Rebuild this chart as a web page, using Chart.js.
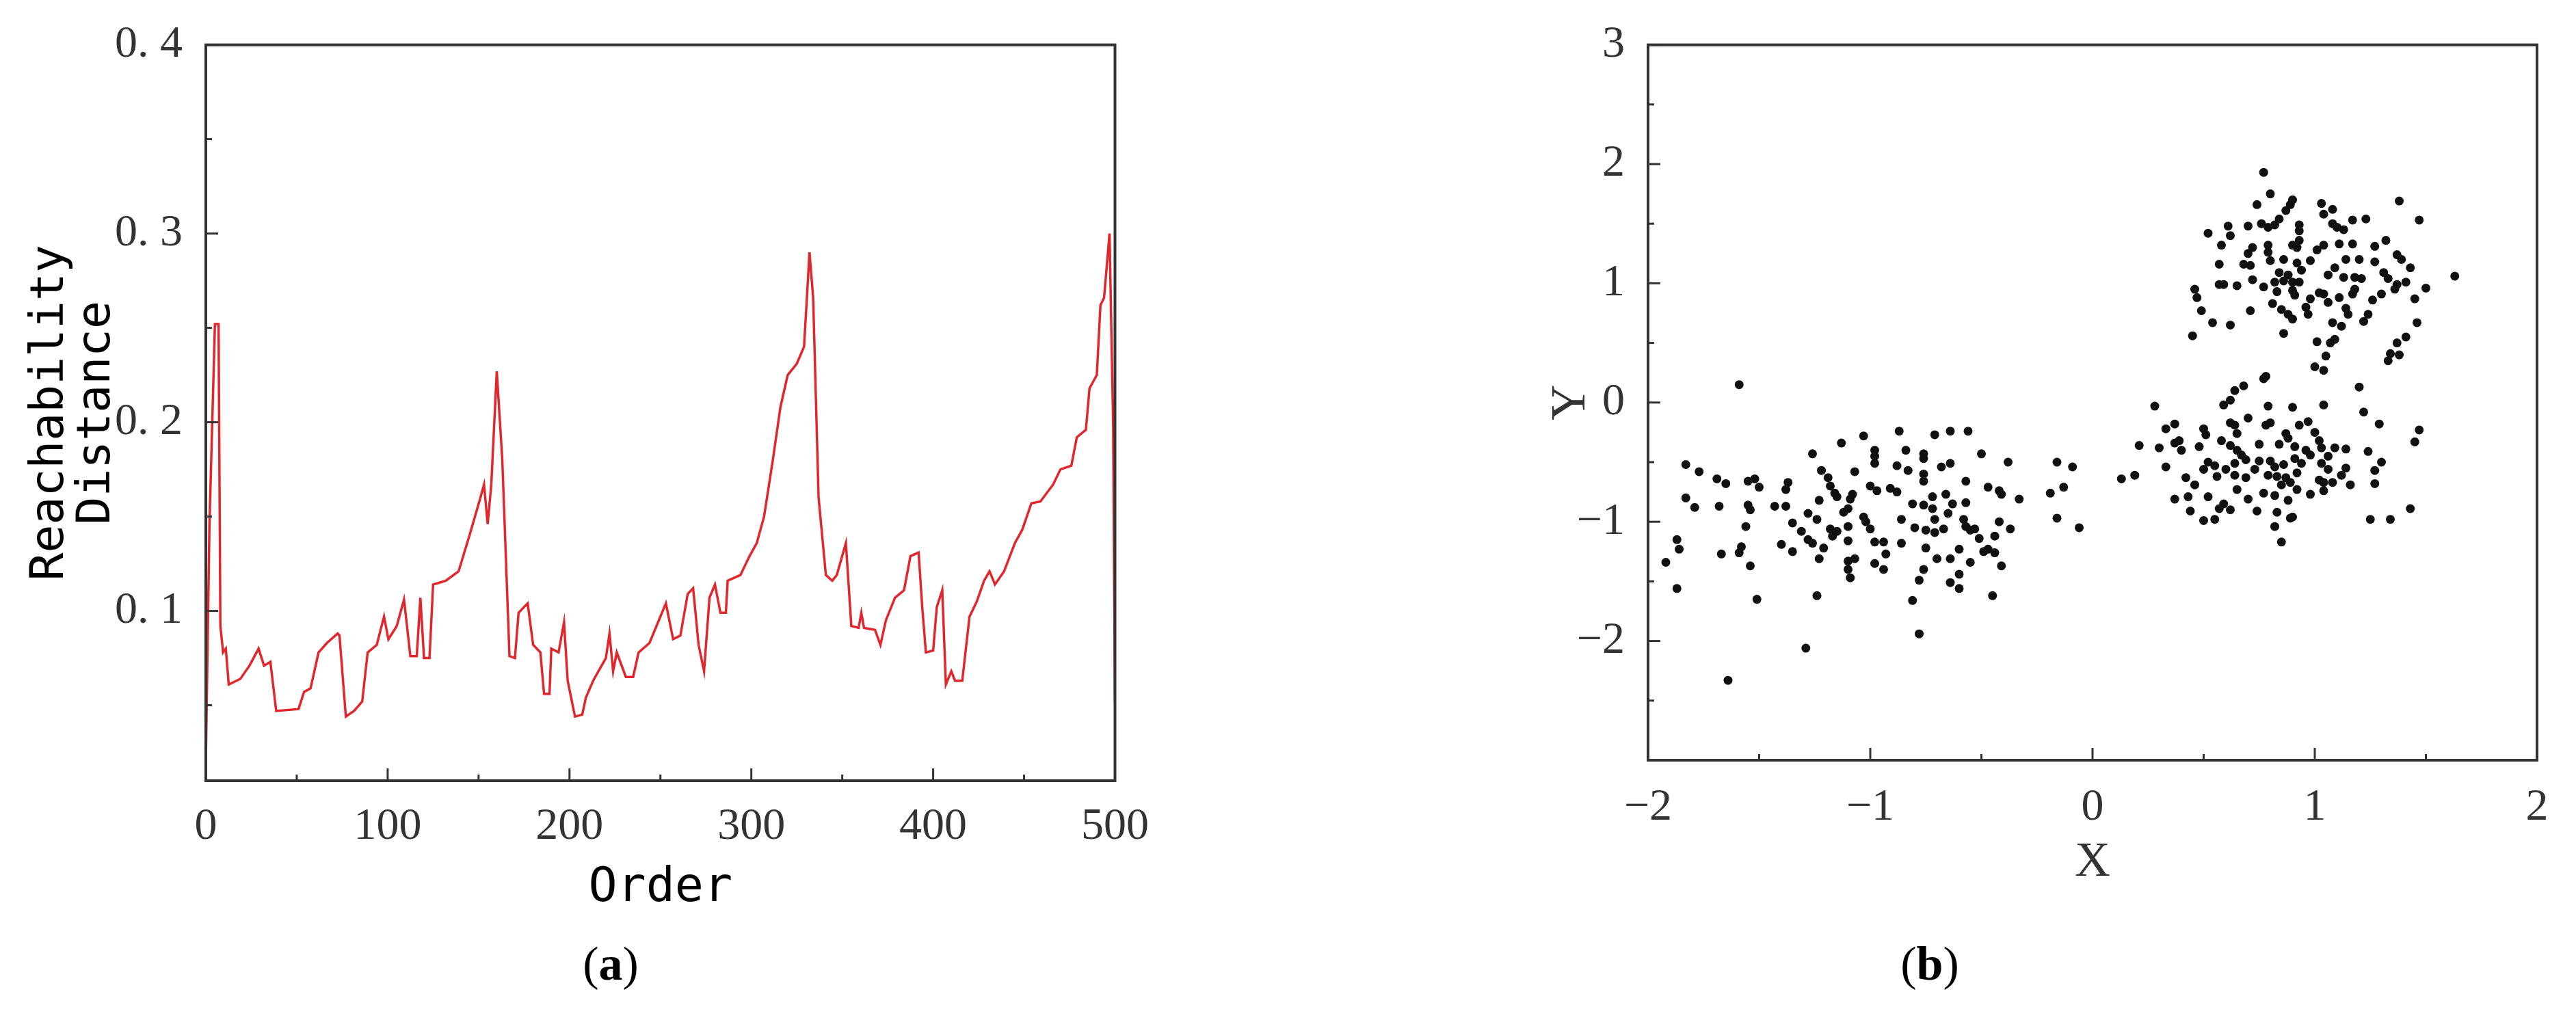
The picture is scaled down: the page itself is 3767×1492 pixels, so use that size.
<!DOCTYPE html>
<html><head><meta charset="utf-8">
<script src="https://cdn.jsdelivr.net/npm/chart.js@4.4.1/dist/chart.umd.min.js"></script>
<style>
html,body{margin:0;padding:0;background:#fff;width:3767px;height:1492px;overflow:hidden;position:relative}
.c{position:absolute}
.cap{position:absolute;font-family:"Liberation Serif",serif;font-size:70px;color:#000;transform:translate(-50%,-50%);white-space:nowrap}
</style></head><body>
<div class="c" style="left:0;top:0;width:1700px;height:1342px"><canvas id="a"></canvas></div>
<div class="c" style="left:2200px;top:0;width:1567px;height:1315px"><canvas id="b"></canvas></div>
<div class="cap" style="left:893px;top:1410px">(<b>a</b>)</div>
<div class="cap" style="left:2822px;top:1410px">(<b>b</b>)</div>
<script>
// ---- Chart (a): reachability plot ----
const orderX = [0,2,5,7,8,9.5,11,12.6,19,24,29,32,35.5,38.7,51,54,57.6,62,66.6,72.5,73.5,77,81.5,86,89,94,98,100.4,105,109,112.5,116,118,120,123,125,132,139,145,151,153,155,157,160,163,167,170,172,177,180,184,186,189,190,194,197,199,203,207,209,213,220,222,224,226,231,235,238,244,253,257,261,265,268,271,274,277,280,283,286,287,294,299,303,307,312,316,320,325,329,332,334,337,341,344.5,347,352,355,359,360.5,362,368,371,374,379,384,387.5,392,394,396,400,402,405,407,410,412,416,420,424,428,431,434,439,445,449,454,459,466,470,476,479,484,486,490,492,494,497,499,500];
const reachY = [0.020,0.146,0.252,0.252,0.092,0.078,0.080,0.061,0.064,0.071,0.080,0.071,0.073,0.047,0.048,0.057,0.059,0.078,0.083,0.088,0.087,0.044,0.047,0.052,0.078,0.082,0.097,0.085,0.092,0.106,0.076,0.076,0.107,0.075,0.075,0.114,0.116,0.121,0.140,0.160,0.167,0.146,0.167,0.227,0.181,0.076,0.075,0.099,0.104,0.082,0.078,0.056,0.056,0.080,0.078,0.094,0.063,0.044,0.045,0.054,0.063,0.075,0.088,0.068,0.078,0.065,0.065,0.078,0.083,0.104,0.085,0.087,0.109,0.112,0.082,0.068,0.107,0.114,0.099,0.099,0.116,0.119,0.129,0.136,0.150,0.181,0.208,0.225,0.231,0.240,0.290,0.266,0.160,0.119,0.116,0.119,0.136,0.092,0.091,0.099,0.091,0.090,0.082,0.095,0.107,0.111,0.129,0.131,0.102,0.078,0.079,0.102,0.111,0.061,0.068,0.063,0.063,0.097,0.105,0.116,0.121,0.114,0.121,0.136,0.143,0.157,0.158,0.167,0.175,0.177,0.192,0.196,0.218,0.225,0.262,0.266,0.300,0.198,0.051];
const aXMajor = [0,100,200,300,400,500];
const aXMinor = [50,150,250,350,450];
const aYMajor = [0.1,0.2,0.3,0.4];
const aYMinor = [0.05,0.15,0.25,0.35];
const aYLabels = ['0. 1','0. 2','0. 3','0. 4'];

// ---- Chart (b): scatter ----
const scatterX = [-1.59,-1.03,-0.87,-0.71,-0.64,-0.56,-1.13,-1.26,-0.98,-0.98,-0.98,-0.84,-0.76,-0.76,-0.50,-0.38,-0.16,-0.09,-1.83,-1.77,-1.69,-1.65,-1.55,-1.52,-1.50,-1.37,-1.38,-1.22,-1.19,-1.18,-1.16,-1.15,-1.08,-1.09,-1.07,-0.88,-0.83,-0.68,-0.64,-0.76,-0.76,-0.57,-0.47,-0.42,-0.41,-1.00,-0.97,-0.91,-0.88,-0.33,-0.19,-0.13,-1.83,-1.79,-1.68,-1.55,-1.54,-1.43,-1.38,-1.23,-1.10,-1.12,-0.66,-0.81,-0.76,-0.72,-0.72,-0.63,-0.57,-0.65,-1.28,-1.24,-1.35,-1.56,-1.03,-1.02,-1.00,-0.86,-0.71,-0.58,-0.57,-0.53,-0.42,-0.37,-0.16,-0.06,-1.18,-1.15,-1.10,-0.80,-0.75,-0.71,-0.67,-0.55,-0.51,-0.44,-1.87,-1.86,-1.92,-1.58,-1.59,-1.67,-1.54,-1.40,-1.35,-1.31,-1.28,-1.26,-1.21,-1.23,-1.17,-1.10,-0.98,-0.94,-0.93,-0.86,-0.75,-0.60,-0.49,-0.44,-0.47,-1.10,-1.07,-1.10,-1.09,-0.98,-0.94,-0.70,-0.64,-0.55,-0.41,-0.76,-0.78,-0.60,-0.64,-0.60,-1.87,-1.51,-1.24,-0.81,-0.45,-0.78,-1.29,-1.64,
0.77,0.80,0.74,0.90,1.03,1.08,1.04,1.38,1.47,1.17,1.23,0.61,0.70,0.76,0.79,0.82,0.84,0.87,0.89,0.93,0.93,1.08,1.10,1.13,0.52,0.62,0.58,0.72,0.70,0.79,0.79,0.80,0.90,0.93,0.92,1.01,1.04,1.11,1.17,1.27,1.32,0.57,0.68,0.71,0.86,0.92,0.98,0.94,1.14,1.20,1.27,1.37,1.39,1.43,0.84,0.88,1.06,1.09,1.13,1.18,1.21,1.31,1.33,0.57,0.59,0.65,0.72,0.77,0.82,0.86,0.90,0.93,1.37,1.41,1.50,1.63,0.46,0.47,0.83,0.90,0.91,0.98,1.02,1.04,1.06,1.11,1.18,1.17,1.30,1.26,1.36,1.45,0.81,0.85,0.88,0.90,0.96,0.97,1.14,1.15,1.24,1.22,0.49,0.71,0.54,0.62,0.45,0.86,1.08,1.12,1.46,1.09,1.07,1.01,1.37,1.41,1.34,1.38,1.33,1.05,1.04,1.00,
0.78,0.77,0.68,0.64,0.62,0.59,0.28,0.79,0.90,1.04,1.20,1.22,1.29,1.47,1.45,0.33,0.37,0.50,0.51,0.62,0.64,0.70,0.65,0.78,0.80,0.87,0.93,0.97,1.00,1.02,0.21,0.30,0.37,0.40,0.39,0.48,0.58,0.62,0.65,0.67,0.75,0.84,0.88,0.91,0.96,0.98,1.03,1.09,1.14,1.06,1.24,0.52,0.55,0.50,0.60,0.64,0.69,0.73,0.75,0.80,0.82,0.86,0.91,0.94,1.03,1.06,1.14,1.12,1.30,1.27,0.33,0.13,0.19,0.42,0.46,0.56,0.64,0.69,0.79,0.83,0.87,0.92,0.85,0.89,1.02,1.04,1.08,1.16,1.27,0.65,0.77,0.82,0.92,0.98,1.04,0.37,0.43,0.52,0.70,0.88,0.59,0.57,0.62,0.44,0.74,0.83,0.50,0.55,0.89,0.90,0.82,0.85,1.25,1.34,1.43];
const scatterY = [0.15,-0.28,-0.24,-0.27,-0.24,-0.24,-0.34,-0.43,-0.40,-0.45,-0.51,-0.40,-0.43,-0.47,-0.43,-0.50,-0.50,-0.54,-0.52,-0.58,-0.64,-0.68,-0.66,-0.64,-0.71,-0.67,-0.73,-0.57,-0.63,-0.70,-0.76,-0.79,-0.77,-0.81,-0.58,-0.53,-0.57,-0.54,-0.51,-0.60,-0.66,-0.66,-0.71,-0.74,-0.77,-0.70,-0.74,-0.72,-0.75,-0.81,-0.76,-0.71,-0.80,-0.88,-0.87,-0.86,-0.90,-0.87,-0.87,-0.82,-0.89,-0.92,-0.77,-0.85,-0.86,-0.79,-0.89,-0.85,-0.84,-0.93,-0.93,-0.98,-1.01,-1.04,-0.96,-1.00,-1.06,-0.98,-0.98,-0.98,-1.04,-1.06,-1.00,-1.06,-0.97,-1.05,-1.06,-1.08,-1.04,-1.05,-1.07,-1.09,-1.06,-1.07,-1.14,-1.12,-1.15,-1.23,-1.34,-1.21,-1.26,-1.27,-1.37,-1.19,-1.25,-1.08,-1.15,-1.18,-1.22,-1.31,-1.12,-1.16,-1.17,-1.17,-1.27,-1.18,-1.22,-1.23,-1.25,-1.26,-1.23,-1.33,-1.31,-1.40,-1.47,-1.35,-1.40,-1.31,-1.31,-1.34,-1.37,-1.40,-1.49,-1.44,-1.51,-1.56,-1.56,-1.65,-1.62,-1.66,-1.62,-1.94,-2.06,-2.33,
1.93,1.75,1.66,1.70,1.67,1.62,1.58,1.69,1.53,1.53,1.54,1.48,1.48,1.50,1.47,1.49,1.54,1.61,1.66,1.49,1.44,1.50,1.47,1.45,1.42,1.40,1.32,1.30,1.25,1.32,1.26,1.19,1.32,1.36,1.30,1.28,1.32,1.33,1.33,1.31,1.36,1.16,1.16,1.15,1.20,1.17,1.19,1.11,1.20,1.20,1.18,1.24,1.20,1.13,1.09,1.07,1.07,1.13,1.05,1.05,1.04,1.09,1.04,0.99,0.99,0.98,1.03,0.97,1.01,1.02,1.01,1.01,0.99,1.01,0.96,1.06,0.95,0.88,0.93,0.94,0.90,0.87,0.92,0.91,0.84,0.88,0.95,0.91,0.91,0.86,0.95,0.87,0.83,0.78,0.74,0.70,0.80,0.74,0.79,0.74,0.74,0.68,0.77,0.77,0.67,0.65,0.56,0.58,0.67,0.64,0.67,0.53,0.50,0.51,0.50,0.55,0.41,0.40,0.35,0.39,0.27,0.30,
0.22,0.20,0.14,0.10,0.02,-0.02,-0.03,-0.03,-0.04,-0.02,0.13,-0.08,-0.18,-0.23,-0.33,-0.22,-0.18,-0.22,-0.27,-0.17,-0.19,-0.13,-0.26,-0.19,-0.17,-0.26,-0.19,-0.16,-0.25,-0.32,-0.36,-0.38,-0.34,-0.40,-0.32,-0.37,-0.32,-0.36,-0.40,-0.44,-0.35,-0.35,-0.30,-0.37,-0.40,-0.44,-0.38,-0.38,-0.39,-0.45,-0.41,-0.50,-0.53,-0.56,-0.56,-0.51,-0.48,-0.56,-0.49,-0.49,-0.54,-0.52,-0.47,-0.51,-0.51,-0.56,-0.55,-0.61,-0.50,-0.57,-0.54,-0.64,-0.61,-0.63,-0.69,-0.62,-0.61,-0.63,-0.61,-0.62,-0.63,-0.59,-0.69,-0.67,-0.65,-0.67,-0.67,-0.69,-0.68,-0.73,-0.76,-0.78,-0.73,-0.77,-0.74,-0.81,-0.79,-0.79,-0.81,-0.82,-0.85,-0.89,-0.90,-0.91,-0.91,-0.92,-0.99,-0.98,-0.97,-0.96,-1.04,-1.17,-0.98,-0.98,-0.89];
const bXMajor = [-2,-1,0,1,2];
const bXMinor = [-1.5,-0.5,0.5,1.5];
const bYMajor = [-2,-1,0,1,2,3];
const bYMinor = [-2.5,-1.5,-0.5,0.5,1.5,2.5];
const bTickFmt = v => (v < 0 ? '\u2212' + Math.abs(v) : String(v));

// ---- frame + inward ticks plugin (positions via library scales) ----
const framePlugin = {
  id: 'frame',
  afterDraw(chart, args, o) {
    const {ctx, chartArea: a, scales} = chart;
    ctx.save();
    ctx.strokeStyle = '#333'; ctx.lineWidth = 4;
    ctx.strokeRect(a.left, a.top, a.right - a.left, a.bottom - a.top);
    ctx.lineWidth = 3;
    const tx = (vals, len) => vals.forEach(v => { const p = scales.x.getPixelForValue(v); ctx.beginPath(); ctx.moveTo(p, a.bottom); ctx.lineTo(p, a.bottom - len); ctx.stroke(); });
    const ty = (vals, len) => vals.forEach(v => { const p = scales.y.getPixelForValue(v); ctx.beginPath(); ctx.moveTo(a.left, p); ctx.lineTo(a.left + len, p); ctx.stroke(); });
    tx(o.xMajor, 18); tx(o.xMinor, 9); ty(o.yMajor, 18); ty(o.yMinor, 9);
    ctx.restore();
  }
};

const serifTick = {family: '"Liberation Serif", serif', size: 66};

new Chart(document.getElementById('a'), {
  type: 'line',
  data: {datasets: [{data: orderX.map((x, i) => ({x, y: reachY[i]})), borderColor: '#e3262b', borderWidth: 3.5, pointRadius: 0, tension: 0}]},
  options: {
    responsive: true, maintainAspectRatio: false, animation: false,
    layout: {padding: {top: 53, right: 54, left: 0, bottom: 0}},
    plugins: {legend: {display: false}, tooltip: {enabled: false},
      frame: {xMajor: aXMajor, xMinor: aXMinor, yMajor: aYMajor, yMinor: aYMinor}},
    scales: {
      x: {type: 'linear', min: 0, max: 500,
        afterBuildTicks: s => { s.ticks = aXMajor.map(v => ({value: v})); },
        afterFit: s => { s.height = 200; },
        grid: {display: false}, border: {display: false},
        ticks: {color: '#333', font: serifTick, padding: 20, maxRotation: 0},
        title: {display: true, text: 'Order', color: '#000', font: {family: '"DejaVu Sans Mono", monospace', size: 70}, padding: {top: 10, bottom: 0}}},
      y: {type: 'linear', min: 0.01, max: 0.4,
        afterBuildTicks: s => { s.ticks = aYMajor.map(v => ({value: v})); },
        afterFit: s => { s.width = 301; },
        grid: {display: false}, border: {display: false},
        ticks: {color: '#333', font: serifTick, padding: 26, callback: (v) => aYLabels[aYMajor.findIndex(t => Math.abs(t - v) < 1e-9)]},
        title: {display: true, text: ['Reachability', 'Distance'], color: '#000', font: {family: '"DejaVu Sans Mono", monospace', size: 68, lineHeight: 1.0}, padding: {top: 40, bottom: 0}}}
    }
  },
  plugins: [framePlugin]
});

new Chart(document.getElementById('b'), {
  type: 'scatter',
  data: {datasets: [{data: scatterX.map((x, i) => ({x, y: scatterY[i]})), backgroundColor: '#111', borderColor: '#111', pointRadius: 6.5, borderWidth: 0}]},
  options: {
    responsive: true, maintainAspectRatio: false, animation: false,
    layout: {padding: {top: 63, right: 57, left: 0, bottom: 0}},
    plugins: {legend: {display: false}, tooltip: {enabled: false},
      frame: {xMajor: bXMajor, xMinor: bXMinor, yMajor: bYMajor, yMinor: bYMinor}},
    scales: {
      x: {type: 'linear', min: -2, max: 2,
        afterBuildTicks: s => { s.ticks = bXMajor.map(v => ({value: v})); },
        afterFit: s => { s.height = 203; },
        grid: {display: false}, border: {display: false},
        ticks: {color: '#333', font: serifTick, padding: 22, maxRotation: 0, callback: bTickFmt},
        title: {display: true, text: 'X', color: '#333', font: {family: '"Liberation Serif", serif', size: 72}, padding: {top: 0, bottom: 10}}},
      y: {type: 'linear', min: -3, max: 3,
        afterBuildTicks: s => { s.ticks = bYMajor.map(v => ({value: v})); },
        afterFit: s => { s.width = 210; },
        grid: {display: false}, border: {display: false},
        ticks: {color: '#333', font: serifTick, padding: 26, callback: bTickFmt},
        title: {display: true, text: 'Y', color: '#333', font: {family: '"Liberation Serif", serif', size: 72}, padding: {top: 55, bottom: 0}}}
    }
  },
  plugins: [framePlugin]
});
</script>
</body></html>
